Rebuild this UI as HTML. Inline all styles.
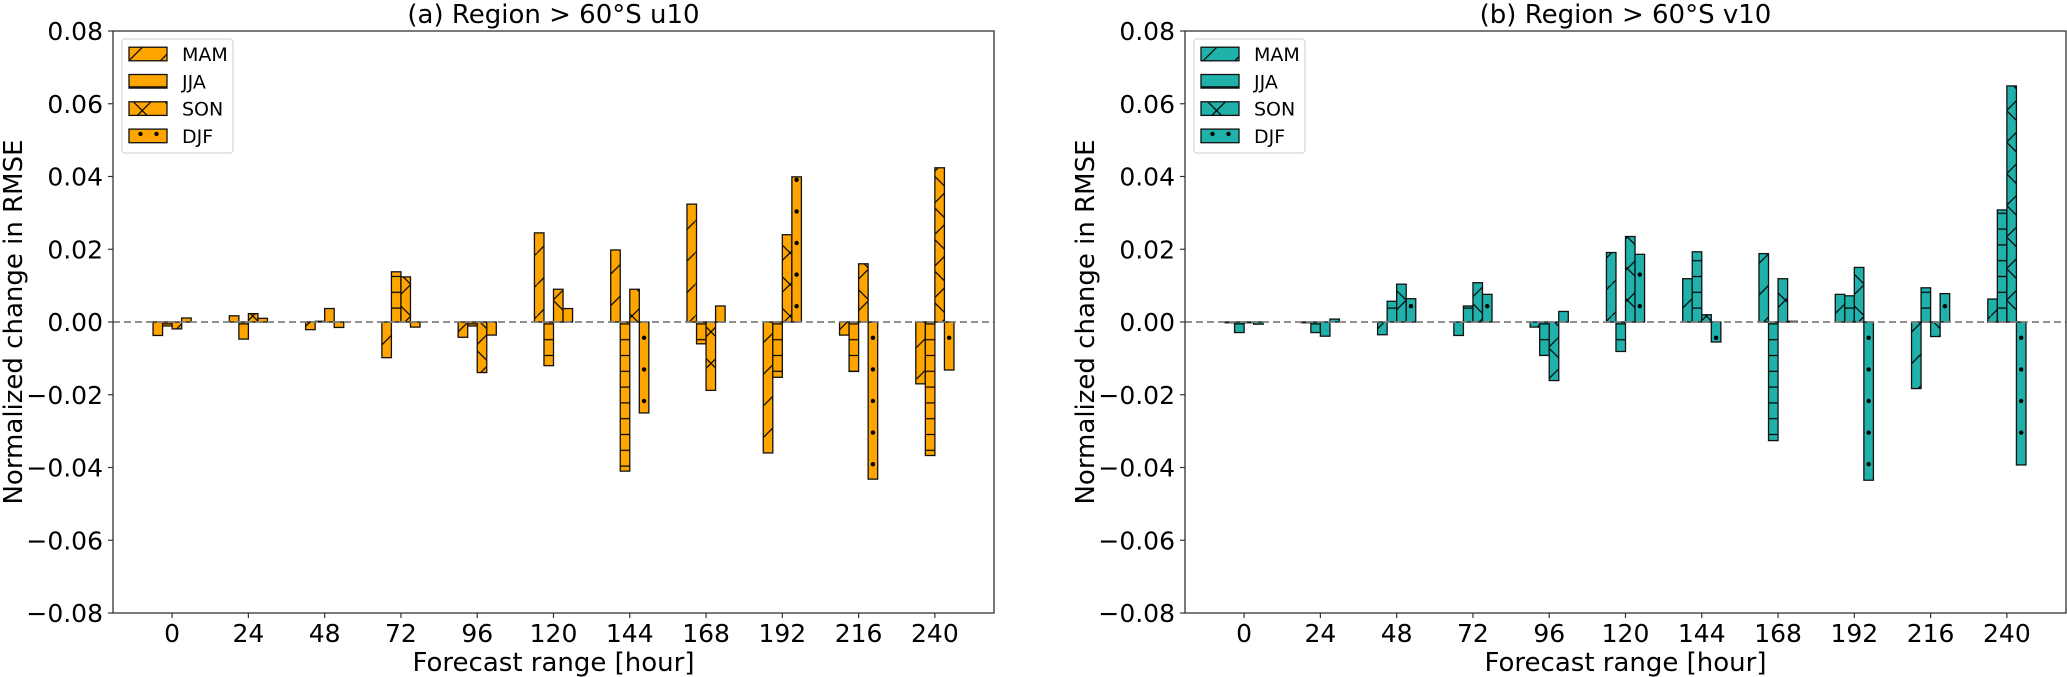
<!DOCTYPE html>
<html><head><meta charset="utf-8">
<style>
html,body{margin:0;padding:0;background:#fff;}
svg{display:block;font-family:"DejaVu Sans","Liberation Sans",sans-serif;}
</style></head>
<body>
<svg id="fig" width="2067" height="677" viewBox="0 0 2067 677" xmlns="http://www.w3.org/2000/svg">
<defs>
<pattern id="h-slash" patternUnits="userSpaceOnUse" width="31.6" height="31.6"><path d="M-2,33.6 L33.6,-2" stroke="#000" stroke-width="1.2"/></pattern>
<pattern id="h-dash" patternUnits="userSpaceOnUse" width="31.6" height="15.8"><path d="M0,7.9 H31.6" stroke="#000" stroke-width="1.2"/></pattern>
<pattern id="h-x" patternUnits="userSpaceOnUse" width="31.6" height="31.6"><path d="M0,0 L31.6,31.6 M0,31.6 L31.6,0" stroke="#000" stroke-width="1.2"/></pattern>
</defs>
</svg>
<script>
const categories = [0,24,48,72,96,120,144,168,192,216,240];
const seasons = ['MAM','JJA','SON','DJF'];
const yTicks = [0.08,0.06,0.04,0.02,0.00,-0.02,-0.04,-0.06,-0.08];
const yTickLabels = ['0.08','0.06','0.04','0.02','0.00','\u22120.02','\u22120.04','\u22120.06','\u22120.08'];
const u10MAM = [-0.0037,0.0017,-0.0021,-0.0098,-0.0042,0.0245,0.0198,0.0324,-0.0360,-0.0036,-0.0170];
const u10JJA = [-0.0011,-0.0047,0.0002,0.0138,-0.0011,-0.0120,-0.0410,-0.0060,-0.0152,-0.0136,-0.0367];
const u10SON = [-0.0019,0.0023,0.0037,0.0124,-0.0139,0.0090,0.0090,-0.0188,0.0240,0.0160,0.0424];
const u10DJF = [0.0011,0.0010,-0.0015,-0.0014,-0.0036,0.0037,-0.0250,0.0044,0.0399,-0.0432,-0.0132];
const v10MAM = [-0.0002,-0.0002,-0.0035,-0.0037,-0.0014,0.0191,0.0119,0.0188,0.0076,-0.0183,0.0063];
const v10JJA = [-0.0029,-0.0029,0.0057,0.0044,-0.0092,-0.0081,0.0193,-0.0326,0.0072,0.0094,0.0308];
const v10SON = [-0.0002,-0.0039,0.0104,0.0108,-0.0161,0.0235,0.0020,0.0119,0.0150,-0.0040,0.0649];
const v10DJF = [-0.0006,0.0008,0.0064,0.0076,0.0029,0.0186,-0.0055,0.0002,-0.0435,0.0078,-0.0393];

const NS='http://www.w3.org/2000/svg';
const svg=document.getElementById('fig');
function mk(tag,attrs,parent){const e=document.createElementNS(NS,tag);for(const k in attrs)e.setAttribute(k,attrs[k]);(parent||svg).appendChild(e);return e;}
const hatches=['url(#h-slash)','url(#h-dash)','url(#h-x)','none'];
const AX_W=881, AX_TOP=31, AX_BOT=613;
const XMIN=-18.6, XMAX=258.6, YMIN=-0.08, YMAX=0.08;
const DOT=31.6;

function drawPanel(left,title,color,series,prefix){
  const g=mk('g',{});
  
  
  const xs=v=>left+(v-XMIN)/(XMAX-XMIN)*AX_W;
  const ys=v=>AX_BOT-(v-YMIN)/(YMAX-YMIN)*(AX_BOT-AX_TOP);
  const bw=xs(3)-xs(0);
  series.forEach((arr,si)=>{
    arr.forEach((v,ci)=>{
      const cx=xs(categories[ci])+(si-1.5)*bw;
      const y0=ys(0), y1=ys(v);
      const y=Math.min(y0,y1), h=Math.max(Math.abs(y1-y0),0.3);
      const r=mk('rect',{x:cx-bw/2,y:y,width:bw,height:h,fill:color},g);
      
      
      if(si===3){
        const dir=v>=0?-1:1;
        for(let d=DOT/2; d<h-1; d+=DOT){
          const c=mk('circle',{cx:cx,cy:y0+dir*d,r:2.2,fill:'#000'},g);
          
          
        }
      }
      const hr=mk('rect',{x:cx-bw/2,y:y,width:bw,height:h,fill:hatches[si],stroke:'#111',"stroke-width":1.3},g);
      
      
    });
  });
  const zl=mk('line',{x1:left,x2:left+AX_W,y1:ys(0),y2:ys(0),stroke:'#808080',"stroke-width":1.8,"stroke-dasharray":"7,4"},g);
  
  
  const fr=mk('rect',{x:left,y:AX_TOP,width:AX_W,height:AX_BOT-AX_TOP,fill:'none',stroke:'#333',"stroke-width":1.3},g);
  
  
  yTicks.forEach((t,i)=>{
    const y=ys(t);
    mk('line',{x1:left-5,x2:left,y1:y,y2:y,stroke:'#333',"stroke-width":1.2},g);
    const tx=mk('text',{x:left-10,y:y+9,"text-anchor":"end","font-size":25,fill:'#000'},g);
    tx.textContent=yTickLabels[i];
    
    
  });
  categories.forEach(c=>{
    const x=xs(c);
    mk('line',{x1:x,x2:x,y1:AX_BOT,y2:AX_BOT+5,stroke:'#333',"stroke-width":1.2},g);
    const tx=mk('text',{x:x,y:AX_BOT+29,"text-anchor":"middle","font-size":25,fill:'#000'},g);
    tx.textContent=String(c);
    
    
  });
  const xl=mk('text',{x:left+AX_W/2,y:671,"text-anchor":"middle","font-size":26,fill:'#000'},g);
  xl.textContent='Forecast range [hour]';
  
  
  const yl=mk('text',{x:0,y:0,"text-anchor":"middle","font-size":26,fill:'#000',transform:`translate(${left-91},${(AX_TOP+AX_BOT)/2}) rotate(-90)`},g);
  yl.textContent='Normalized change in RMSE';
  
  
  const tt=mk('text',{x:left+AX_W/2,y:23,"text-anchor":"middle","font-size":26,fill:'#000'},g);
  tt.textContent=title;
  
  
  const lg=mk('g',{},g);
  
  
  mk('rect',{x:left+9,y:39,width:111,height:114,rx:3,fill:'#fff',"fill-opacity":0.8,stroke:'#ccc',"stroke-width":1},lg);
  seasons.forEach((s,i)=>{
    const cy=54+i*27.3;
    const e=mk('g',{},lg);
    
    
    mk('rect',{x:left+16,y:cy-6.8,width:38,height:13.6,fill:color},e);
    if(i===3){
      mk('circle',{cx:left+27.5,cy:cy-2,r:2.2,fill:'#000'},e);
      mk('circle',{cx:left+43.5,cy:cy-2,r:2.2,fill:'#000'},e);
    }
    mk('rect',{x:left+16,y:cy-6.8,width:38,height:13.6,fill:hatches[i],stroke:'#111',"stroke-width":1.3},e);
    const t=mk('text',{x:left+69,y:cy+7,"font-size":19,fill:'#000'},e);
    t.textContent=s;
  });
}
drawPanel(113,'(a) Region > 60°S u10','#FFA500',[u10MAM,u10JJA,u10SON,u10DJF],'u10');
drawPanel(1185,'(b) Region > 60°S v10','#20B2AA',[v10MAM,v10JJA,v10SON,v10DJF],'v10');
</script>
</body></html>
